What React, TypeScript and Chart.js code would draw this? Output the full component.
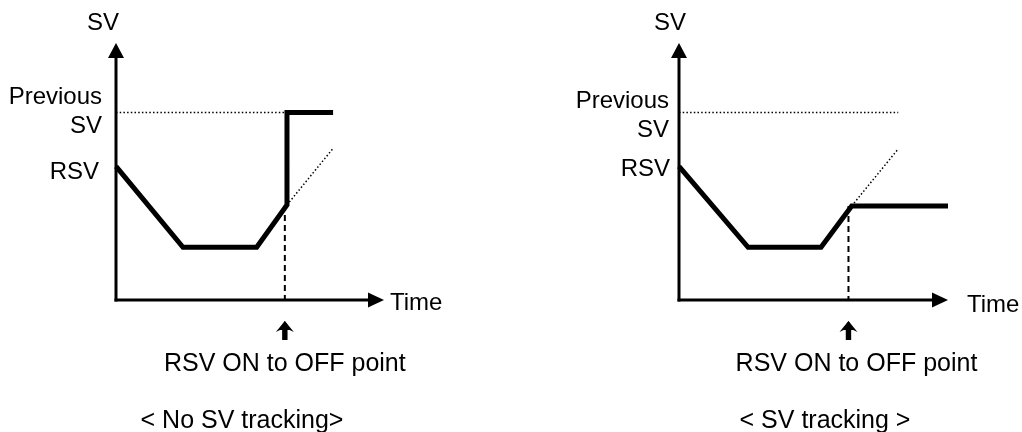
import { useEffect, useRef } from "react";
import { Chart, registerables } from "chart.js";

Chart.register(...registerables);

const FONT = '"Liberation Sans", Arial, Helvetica, sans-serif';

// ---- Data (time units 0..10, SV units 0..10) ----
const axisMax = 10;
const previousSV = 7.3;

// Panel 1: No SV tracking
const noTrackTime = [0, 2.5, 5.25, 6.38, 6.38, 8.1];
const noTrackSV = [5.2, 2.05, 2.05, 3.7, 7.3, 7.3];
const noTrackPrevTime = [0, 6.38];
const noTrackRampTime = [6.38, 8.1];
const noTrackRampSV = [3.7, 5.9];
const noTrackSwitch = 6.3;

// Panel 2: SV tracking
const trackTime = [0, 2.57, 5.28, 6.42, 10];
const trackSV = [5.2, 2.05, 2.05, 3.66, 3.66];
const trackPrevTime = [0, 8.15];
const trackRampTime = [6.42, 8.15];
const trackRampSV = [3.66, 5.88];
const trackSwitch = 6.3;

// ---- Text ----
const yAxisTitle = "SV";
const xAxisTitle = "Time";
const prevLabel = ["Previous", "SV"];
const rsvLabel = "RSV";
const pointLabel = "RSV ON to OFF point";
const panelTitles = ["< No SV tracking>", "< SV tracking >"];

type Panel = {
  time: number[];
  sv: number[];
  prevTime: number[];
  rampTime: number[];
  rampSV: number[];
  switchT: number;
  title: string;
  pad: { left: number; right: number; top: number; bottom: number };
  lab: {
    svDx: number;
    prevDx: number;
    prevDy: number;
    rsvDx: number;
    rsvDy: number;
    timeDx: number;
    timeDy: number;
    pointDx: number;
    titleDx: number;
  };
};

const panels: Panel[] = [
  {
    time: noTrackTime,
    sv: noTrackSV,
    prevTime: noTrackPrevTime,
    rampTime: noTrackRampTime,
    rampSV: noTrackRampSV,
    switchT: noTrackSwitch,
    title: panelTitles[0],
    pad: { left: 116, right: 511 - 384, top: 43, bottom: 432 - 300 },
    lab: { svDx: -13, prevDx: -14, prevDy: 0, rsvDx: -17, rsvDy: 0, timeDx: 6, timeDy: 10, pointDx: 0, titleDx: 126 },
  },
  {
    time: trackTime,
    sv: trackSV,
    prevTime: trackPrevTime,
    rampTime: trackRampTime,
    rampSV: trackRampSV,
    switchT: trackSwitch,
    title: panelTitles[1],
    pad: { left: 679 - 511, right: 511 - (948 - 511), top: 43, bottom: 432 - 300 },
    lab: { svDx: -9, prevDx: -10, prevDy: 4, rsvDx: -9, rsvDy: -3, timeDx: 19, timeDy: 12, pointDx: 8, titleDx: 146 },
  },
];

const pts = (xs: number[], ys: number[]) => xs.map((x, i) => ({ x, y: ys[i] }));

function PanelChart({ panel, left }: { panel: Panel; left: number }) {
  const ref = useRef<HTMLCanvasElement | null>(null);

  useEffect(() => {
    if (!ref.current) return;
    const startSV = panel.sv[0];
    const switchSV = panel.rampSV[0];

    const diagram = {
      id: "diagram",
      beforeDatasetsDraw(chart: any) {
        const { ctx } = chart;
        const xs = chart.scales.x;
        const ys = chart.scales.y;
        const x0 = xs.getPixelForValue(0);
        const y0 = ys.getPixelForValue(0);
        const xE = xs.getPixelForValue(axisMax);
        const yE = ys.getPixelForValue(axisMax);
        ctx.save();
        ctx.strokeStyle = "#000";
        ctx.fillStyle = "#000";
        ctx.lineWidth = 3;
        ctx.lineCap = "butt";
        ctx.setLineDash([]);
        // y axis
        ctx.beginPath();
        ctx.moveTo(x0, y0 + 1.5);
        ctx.lineTo(x0, yE + 12);
        ctx.stroke();
        ctx.beginPath();
        ctx.moveTo(x0, yE);
        ctx.lineTo(x0 - 8, yE + 15);
        ctx.lineTo(x0 + 8, yE + 15);
        ctx.closePath();
        ctx.fill();
        // x axis
        ctx.beginPath();
        ctx.moveTo(x0 - 1.5, y0);
        ctx.lineTo(xE - 12, y0);
        ctx.stroke();
        ctx.beginPath();
        ctx.moveTo(xE, y0);
        ctx.lineTo(xE - 16, y0 - 7.5);
        ctx.lineTo(xE - 16, y0 + 7.5);
        ctx.closePath();
        ctx.fill();
        ctx.restore();
      },
      afterDraw(chart: any) {
        const { ctx } = chart;
        const xs = chart.scales.x;
        const ys = chart.scales.y;
        const x0 = xs.getPixelForValue(0);
        const y0 = ys.getPixelForValue(0);
        const xE = xs.getPixelForValue(axisMax);
        const yE = ys.getPixelForValue(axisMax);
        const yPrev = ys.getPixelForValue(previousSV);
        const yRsv = ys.getPixelForValue(startSV);
        const sx = xs.getPixelForValue(panel.switchT);
        const L = panel.lab;
        ctx.save();
        ctx.fillStyle = "#000";
        ctx.textBaseline = "alphabetic";
        ctx.font = `24px ${FONT}`;
        // axis titles
        ctx.textAlign = "center";
        ctx.fillText(yAxisTitle, x0 + L.svDx, yE - 13);
        ctx.textAlign = "left";
        ctx.fillText(xAxisTitle, xE + L.timeDx, y0 + L.timeDy);
        // value labels
        ctx.textAlign = "right";
        ctx.fillText(prevLabel[0], x0 + L.prevDx, yPrev - 8.5 + L.prevDy);
        ctx.fillText(prevLabel[1], x0 + L.prevDx, yPrev + 20.5 + L.prevDy);
        ctx.fillText(rsvLabel, x0 + L.rsvDx, yRsv + 12.6 + L.rsvDy);
        // up arrow
        const top = y0 + 21;
        ctx.beginPath();
        ctx.moveTo(sx, top);
        ctx.lineTo(sx + 9, top + 11);
        ctx.lineTo(sx + 2.7, top + 8);
        ctx.lineTo(sx + 2.7, top + 19);
        ctx.lineTo(sx - 2.7, top + 19);
        ctx.lineTo(sx - 2.7, top + 8);
        ctx.lineTo(sx - 9, top + 11);
        ctx.closePath();
        ctx.fill();
        ctx.beginPath();
        ctx.moveTo(sx, top);
        ctx.lineTo(sx + 6, top + 9);
        ctx.lineTo(sx - 6, top + 9);
        ctx.closePath();
        ctx.fill();
        // point label + title
        ctx.font = `25px ${FONT}`;
        ctx.textAlign = "center";
        ctx.fillText(pointLabel, sx + L.pointDx, y0 + 71);
        ctx.fillText(panel.title, x0 + L.titleDx, y0 + 128);
        ctx.restore();
      },
    };

    const chart = new Chart(ref.current, {
      type: "line",
      data: {
        datasets: [
          {
            data: pts(panel.time, panel.sv),
            borderColor: "#000",
            borderWidth: 5,
            borderJoinStyle: "miter",
            borderCapStyle: "butt",
            pointRadius: 0,
            tension: 0,
            fill: false,
            clip: false,
          } as any,
          {
            data: pts(panel.prevTime, panel.prevTime.map(() => previousSV)),
            borderColor: "#000",
            borderWidth: 1.5,
            borderDash: [1.5, 2.2],
            pointRadius: 0,
            tension: 0,
            fill: false,
            clip: false,
          },
          {
            data: pts(panel.rampTime, panel.rampSV),
            borderColor: "#000",
            borderWidth: 1.5,
            borderDash: [1.5, 2.2],
            pointRadius: 0,
            tension: 0,
            fill: false,
            clip: false,
          },
          {
            data: pts([panel.switchT, panel.switchT], [switchSV, 0]),
            borderColor: "#000",
            borderWidth: 2,
            borderDash: [6, 4],
            pointRadius: 0,
            tension: 0,
            fill: false,
            clip: false,
          },
        ],
      },
      options: {
        responsive: false,
        animation: false,
        devicePixelRatio: 1,
        events: [],
        layout: { padding: panel.pad },
        scales: {
          x: { type: "linear", min: 0, max: axisMax, display: false },
          y: { type: "linear", min: 0, max: axisMax, display: false },
        },
        plugins: { legend: { display: false }, tooltip: { enabled: false } },
      },
      plugins: [diagram],
    });
    return () => chart.destroy();
  }, [panel]);

  return (
    <canvas
      ref={ref}
      width={511}
      height={432}
      style={{ position: "absolute", left, top: 0, width: 511, height: 432 }}
    />
  );
}

export default function App() {
  return (
    <div
      style={{
        position: "fixed",
        left: 0,
        top: 0,
        width: 1022,
        height: 432,
        background: "#fff",
        overflow: "hidden",
      }}
    >
      <PanelChart panel={panels[0]} left={0} />
      <PanelChart panel={panels[1]} left={511} />
    </div>
  );
}
